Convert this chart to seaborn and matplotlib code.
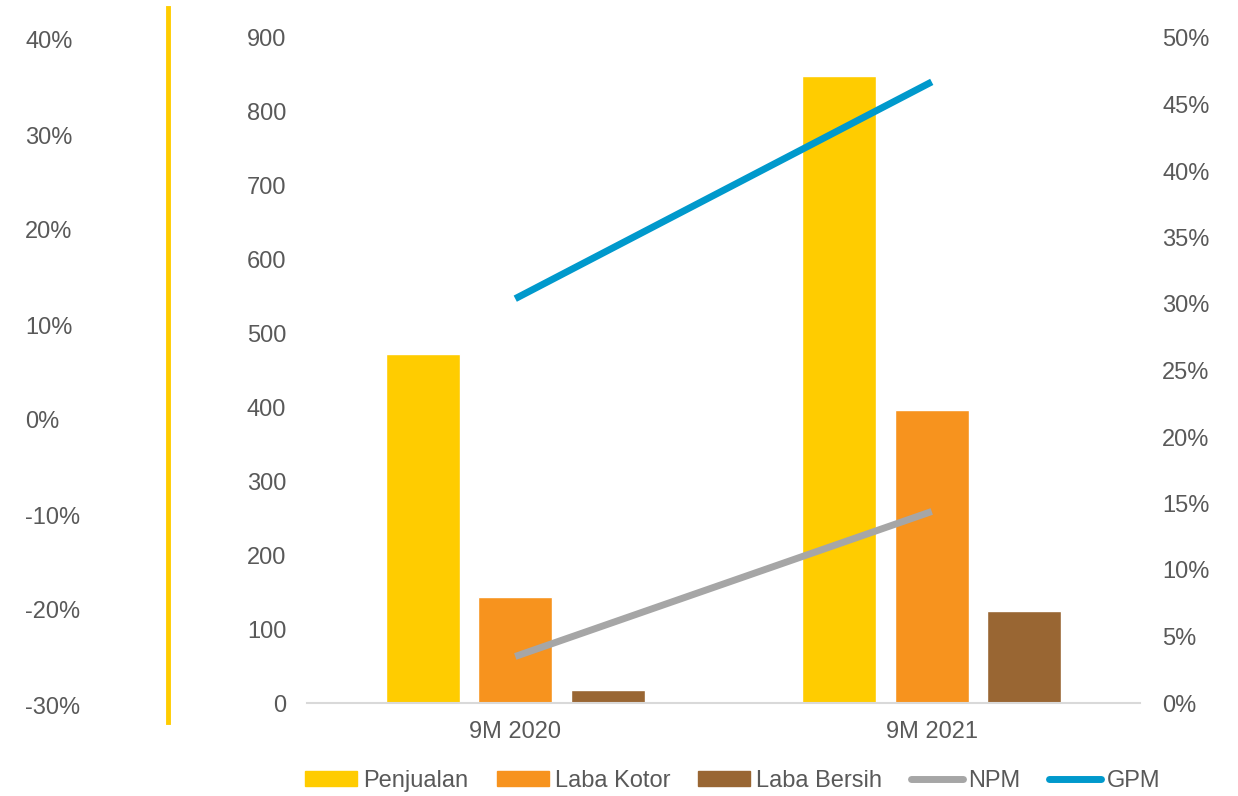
import pandas as pd
import numpy as np
import matplotlib.pyplot as plt
import seaborn as sns
from matplotlib.lines import Line2D
from matplotlib.patches import Patch

periods = ["9M 2020", "9M 2021"]
series = ["Penjualan", "Laba Kotor", "Laba Bersih"]
penjualan = [472, 848]
laba_kotor = [143, 396]
laba_bersih = [17, 124]
npm = [3.5, 14.4]
gpm = [30.4, 46.7]
left_ticks = [40, 30, 20, 10, 0, -10, -20, -30]
main_ticks = list(range(0, 1000, 100))
right_ticks = list(range(0, 55, 5))

colors = {"Penjualan": "#FFCC00", "Laba Kotor": "#F7931E", "Laba Bersih": "#996633"}
c_npm, c_gpm = "#A6A6A6", "#0099CC"
txt = "#595959"
fs = 17

df = pd.DataFrame({
    "period": periods * 3,
    "series": [s for s in series for _ in periods],
    "value": penjualan + laba_kotor + laba_bersih,
})

sns.set_theme(style="white")
plt.rcParams["font.family"] = ["Liberation Sans", "DejaVu Sans"]

W, H = 1238, 796
fig = plt.figure(figsize=(W / 100, H / 100), dpi=100)

def box(x0, y0, x1, y1):
    return [x0 / W, 1 - y1 / H, (x1 - x0) / W, (y1 - y0) / H]

# main axis with bars
ax = fig.add_axes(box(307, 38, 1140, 703))
sns.barplot(data=df, x="period", y="value", hue="series", order=periods,
            hue_order=series, palette=colors, width=0.667, gap=0.2,
            saturation=1, ax=ax, legend=False)
ax.set_ylim(0, 900)
ax.set_xlim(-0.5, 1.5)
ax.set_yticks(main_ticks)
ax.set_xlabel("")
ax.set_ylabel("")
for s in ["top", "right", "left"]:
    ax.spines[s].set_visible(False)
ax.spines["bottom"].set_color("#D9D9D9")
ax.spines["bottom"].set_linewidth(1.5)
ax.tick_params(axis="y", length=0, pad=15, labelsize=fs, labelcolor=txt)
ax.tick_params(axis="x", length=0, pad=13, labelsize=fs, labelcolor=txt)

# right axis with margins
ax2 = ax.twinx()
ax2.plot([0, 1], npm, color=c_npm, lw=5, solid_capstyle="butt")
ax2.plot([0, 1], gpm, color=c_gpm, lw=5, solid_capstyle="butt")
ax2.set_ylim(0, 50)
ax2.set_yticks(right_ticks)
ax2.set_yticklabels([f"{t}%" for t in right_ticks])
for s in ax2.spines.values():
    s.set_visible(False)
ax2.tick_params(axis="y", length=0, pad=16, labelsize=fs, labelcolor=txt)

# extra left axis
ax3 = fig.add_axes(box(25, 8, 168, 722))
ax3.set_ylim(-30 - 17 / 9.5, 40 + 32 / 9.5)
ax3.set_yticks(left_ticks)
ax3.set_yticklabels([f"{t}%" for t in left_ticks])
ax3.set_xticks([])
for s in ["top", "bottom", "left"]:
    ax3.spines[s].set_visible(False)
ax3.spines["right"].set_color("#FFCC00")
ax3.spines["right"].set_linewidth(3.5)
ax3.patch.set_alpha(0)
ax3.tick_params(axis="y", length=0, pad=0, labelsize=fs, labelcolor=txt)
for lab in ax3.get_yticklabels():
    lab.set_horizontalalignment("left")

handles = [Patch(color=colors[s]) for s in series] + [
    Line2D([], [], color=c_npm, lw=5, solid_capstyle="round"),
    Line2D([], [], color=c_gpm, lw=5, solid_capstyle="round"),
]
labels = series + ["NPM", "GPM"]
leg = fig.legend(handles, labels, loc="center", bbox_to_anchor=(733 / W, 1 - 781 / H),
                 ncol=5, frameon=False, fontsize=fs, handlelength=2.2,
                 handleheight=0.6, handletextpad=0.25, columnspacing=1.2,
                 borderpad=0, borderaxespad=0)
for t in leg.get_texts():
    t.set_color(txt)

fig.savefig("out.png", dpi=100)
